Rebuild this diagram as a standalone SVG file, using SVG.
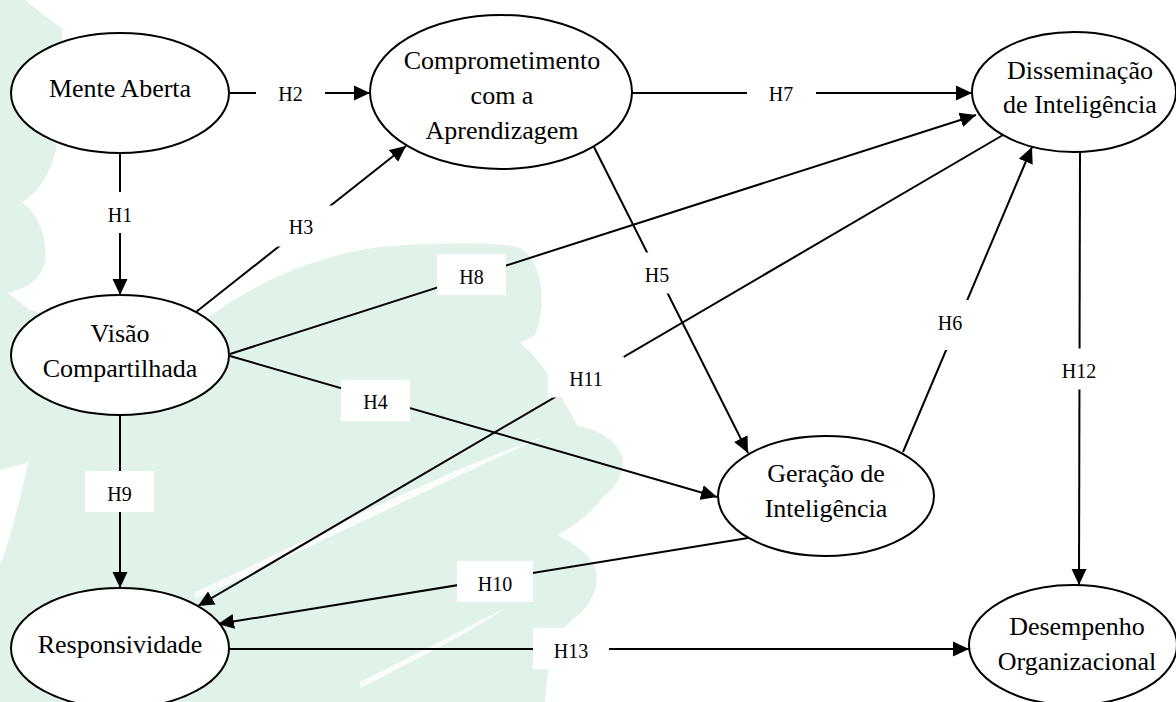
<svg xmlns="http://www.w3.org/2000/svg" width="1176" height="702" viewBox="0 0 1176 702">
<style>
.bg{fill:#e1f2e8}
.st{fill:#ffffff;opacity:0.85}
.edge{stroke:#000;stroke-width:2;fill:none}
.node ellipse{fill:#fff;stroke:#000;stroke-width:2}
.node text{font-family:'Liberation Serif','DejaVu Serif',serif;font-size:26px;text-anchor:middle;fill:#000}
.lab rect{fill:#fff}
.lab text{font-family:'Liberation Serif','DejaVu Serif',serif;font-size:20px;text-anchor:middle;fill:#000}
</style>
<defs>
<marker id="ah" markerUnits="userSpaceOnUse" markerWidth="17" markerHeight="16" refX="16" refY="8" orient="auto">
<path d="M0,0.5 L16,8 L0,15.5 Z" fill="#000"/>
</marker>
</defs>
<rect x="0" y="0" width="1176" height="702" fill="#fff"/>
<g id="watermark">
<path class="bg" d="M0,0 L25,0 C38,10 50,20 62,28 C64,70 60,115 56,150 C50,176 36,194 22,202 C38,214 48,238 45,262 C40,282 22,290 8,293 L30,310 L120,330 L208,318 C250,285 320,252 390,246 C450,242 500,242 520,248 C545,262 546,310 535,335 L520,343 C545,362 560,395 578,426 C604,430 622,446 623,462 C622,480 612,490 605,495 C590,514 572,528 557,535 C580,546 596,560 597,576 C596,598 585,610 577,616 C560,628 548,650 545,702 L0,702 L0,565 C10,540 20,500 28,463 L0,470 Z"/>
<path class="st" d="M195,592 C300,545 420,480 545,436 C430,488 310,548 195,599 Z"/>
<path class="st" d="M360,682 C420,652 470,626 507,607 C470,632 420,658 360,688 Z"/>
</g>
<g id="connectors">
<path class="edge" d="M120,153 L120,295" marker-end="url(#ah)"/>
<path class="edge" d="M229,93 L370,93" marker-end="url(#ah)"/>
<path class="edge" d="M196,312 L406,146" marker-end="url(#ah)"/>
<path class="edge" d="M230,356 L717,497" marker-end="url(#ah)"/>
<path class="edge" d="M594,147 L748,453" marker-end="url(#ah)"/>
<path class="edge" d="M903,452 L1032,147" marker-end="url(#ah)"/>
<path class="edge" d="M632,93 L972,93" marker-end="url(#ah)"/>
<path class="edge" d="M230,354 L976,115" marker-end="url(#ah)"/>
<path class="edge" d="M120,415 L120,588" marker-end="url(#ah)"/>
<path class="edge" d="M748,538 L218,624" marker-end="url(#ah)"/>
<path class="edge" d="M1003,135 L198,606" marker-end="url(#ah)"/>
<path class="edge" d="M1080,152 L1079,585" marker-end="url(#ah)"/>
<path class="edge" d="M229,649 L969,649" marker-end="url(#ah)"/>
</g>
<g id="labels" class="lab">
<rect x="85.5" y="192" width="69" height="41"/><text x="120" y="221.5">H1</text>
<rect x="256" y="72.5" width="69" height="41"/><text x="290.5" y="101">H2</text>
<rect x="266.5" y="205.5" width="69" height="41"/><text x="301" y="233.5">H3</text>
<rect x="341" y="380" width="69" height="41"/><text x="375.5" y="409">H4</text>
<rect x="622.5" y="252.5" width="69" height="41"/><text x="657" y="282">H5</text>
<rect x="916" y="300" width="69" height="50"/><text x="950" y="330">H6</text>
<rect x="747" y="72.5" width="69" height="41"/><text x="781" y="101">H7</text>
<rect x="437" y="254" width="69" height="41"/><text x="471.5" y="283.5">H8</text>
<rect x="85" y="471" width="69" height="41"/><text x="119.5" y="501">H9</text>
<rect x="457" y="561" width="76" height="41"/><text x="495" y="591">H10</text>
<rect x="548" y="356.5" width="76" height="41"/><text x="586" y="386">H11</text>
<rect x="1041" y="348.5" width="76" height="41"/><text x="1079" y="378">H12</text>
<rect x="533" y="628" width="76" height="41"/><text x="571" y="658">H13</text>
</g>
<g id="mente-aberta" class="node">
<ellipse cx="120" cy="93" rx="109" ry="60"/>
<text x="120" y="97">Mente Aberta</text>
</g>
<g id="comprometimento" class="node">
<ellipse cx="501" cy="92" rx="131" ry="77"/>
<text x="502" y="69">Comprometimento</text>
<text x="502" y="104">com a</text>
<text x="502" y="139">Aprendizagem</text>
</g>
<g id="disseminacao" class="node">
<ellipse cx="1074" cy="92" rx="102" ry="60"/>
<text x="1080" y="79">Disseminação</text>
<text x="1080" y="113">de Inteligência</text>
</g>
<g id="visao" class="node">
<ellipse cx="120" cy="355" rx="109" ry="60"/>
<text x="120" y="342">Visão</text>
<text x="120" y="377">Compartilhada</text>
</g>
<g id="geracao" class="node">
<ellipse cx="826" cy="496" rx="108" ry="60"/>
<text x="826" y="482">Geração de</text>
<text x="826" y="517">Inteligência</text>
</g>
<g id="responsividade" class="node">
<ellipse cx="120" cy="648" rx="109" ry="60"/>
<text x="120" y="653">Responsividade</text>
</g>
<g id="desempenho" class="node">
<ellipse cx="1073" cy="645" rx="104" ry="60"/>
<text x="1077" y="635">Desempenho</text>
<text x="1077" y="670">Organizacional</text>
</g>
</svg>
